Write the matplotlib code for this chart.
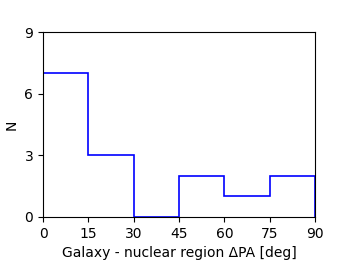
import matplotlib
matplotlib.use('Agg')
import matplotlib.pyplot as plt
import numpy as np

bin_edges = [0, 15, 30, 45, 60, 75, 90]
counts = [7, 3, 0, 2, 1, 2]

fig = plt.figure(figsize=(3.5, 2.63), dpi=100)
ax = fig.add_axes([43 / 350, 46 / 263, 272 / 350, 185 / 263])

# step histogram from the bin counts
ax.hist(bin_edges[:-1], bins=bin_edges, weights=counts,
        histtype='step', color='blue', linewidth=1.2)

ax.set_xlim(0, 90)
ax.set_ylim(0, 9)
ax.set_xticks([0, 15, 30, 45, 60, 75, 90])
ax.set_yticks([0, 3, 6, 9])
ax.tick_params(labelsize=10)
ax.set_xlabel('Galaxy - nuclear region ΔPA [deg]', fontsize=10)
ax.set_ylabel('N', fontsize=10)

fig.savefig('out.png', dpi=100)
